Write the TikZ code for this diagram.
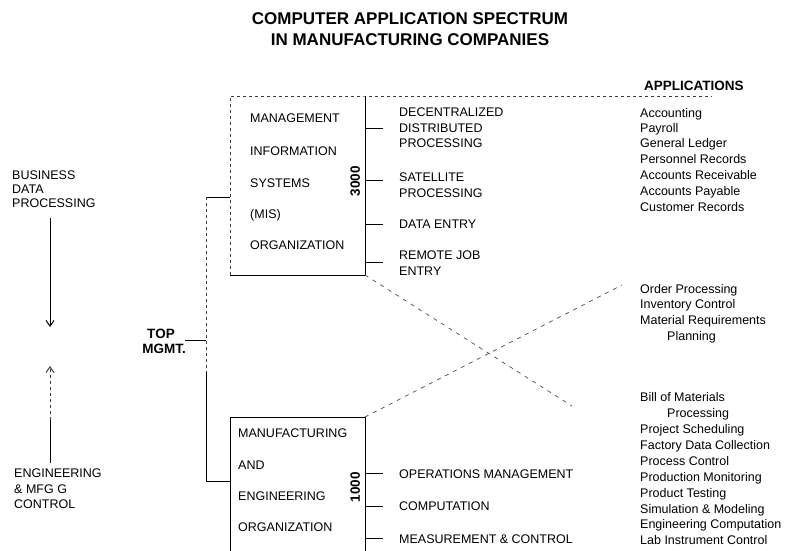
\documentclass[tikz,border=0pt]{standalone}
\usepackage{fontspec}
\setmainfont{Liberation Sans}
\usetikzlibrary{arrows.meta}
\begin{document}
\begin{tikzpicture}[x=1pt,y=-1pt,
  lbl/.style={font=\fontsize{12.5}{13}\selectfont, inner sep=0pt, anchor=west, text height=9pt, text depth=0pt},
  app/.style={font=\fontsize{12.5}{13}\selectfont, inner sep=0pt, anchor=west, text height=9pt, text depth=0pt},
  boldlbl/.style={font=\bfseries\fontsize{13.5}{14}\selectfont, inner sep=0pt, text height=9.8pt, text depth=0pt},
  titlef/.style={font=\bfseries\fontsize{17}{18}\selectfont, inner sep=0pt, text height=12.2pt, text depth=0pt},
  solidline/.style={line width=1pt, black},
  faintline/.style={line width=0.8pt, black!75, dash pattern=on 3pt off 3pt},
  crossline/.style={line width=0.7pt, black!70, dash pattern=on 4pt off 5pt},
  tick/.style={line width=1pt, black},
  barb/.style={-{Straight Barb[angle=70:7pt, line width=1pt]}}]
\useasboundingbox (0,0) rectangle (791,550);

% title
\node[titlef] (t1) at (410,18) {COMPUTER APPLICATION SPECTRUM};
\node[titlef] (t2) at (410,39) {IN MANUFACTURING COMPANIES};

% left side
\node[lbl] (bdp1) at (12,175) {BUSINESS};
\node[lbl] (bdp2) at (12,189) {DATA};
\node[lbl] (bdp3) at (12,203) {PROCESSING};
\coordinate (dnS) at (50,218);
\coordinate (dnE) at (50,327);
\draw[solidline, barb] (dnS) -- (dnE);

\node[lbl] (em1) at (14,473) {ENGINEERING};
\node[lbl] (em2) at (14,489) {\& MFG G};
\node[lbl] (em3) at (14,504) {CONTROL};
\coordinate (upS) at (50,463);
\coordinate (upM) at (50,420);
\coordinate (upE) at (50,366);
\draw[solidline] (upS) -- (upM);
\draw[faintline, barb] (upM) -- (upE);

% top management bracket
\node[boldlbl] (top) at (161,334) {TOP};
\node[boldlbl] (mgmt) at (164,349) {MGMT.};
\coordinate (brT) at (206,197);
\coordinate (brD) at (206,372);
\coordinate (brB) at (206,481);
\coordinate (brM) at (206,340);
\coordinate (tmT) at (185,340);
\coordinate (misJ) at (230,197);
\coordinate (mfgJ) at (230,481);
\draw[solidline] (misJ) -- (brT);
\draw[faintline] (brT) -- (brD);
\draw[solidline] (brD) -- (brB) -- (mfgJ);
\draw[solidline] (tmT) -- (brM);

% MIS box
\coordinate (misTL) at (230,96);
\coordinate (misTR) at (365,96);
\coordinate (misBR) at (365,275);
\coordinate (misBL) at (230,275);
\coordinate (topEnd) at (712,96);
\draw[faintline] (misBL) -- (misTL) -- (misTR) -- (topEnd);
\draw[solidline] (misTR) -- (misBR) -- (misBL);

\node[lbl] (m1) at (250,118) {MANAGEMENT};
\node[lbl] (m2) at (250,151) {INFORMATION};
\node[lbl] (m3) at (250,183) {SYSTEMS};
\node[lbl] (m4) at (250,214) {(MIS)};
\node[lbl] (m5) at (250,245) {ORGANIZATION};
\node[boldlbl, rotate=90] (n3000) at (355,181) {3000};

\foreach \yy/\nm in {128/a,180/b,224/c,262/d}{
  \coordinate (mt\nm) at (365,\yy);
  \coordinate (me\nm) at (383,\yy);
  \draw[tick] (mt\nm) -- (me\nm);
}
\node[lbl] (d1) at (399,112) {DECENTRALIZED};
\node[lbl] (d2) at (399,128) {DISTRIBUTED};
\node[lbl] (d3) at (399,143) {PROCESSING};
\node[lbl] (s1) at (399,177) {SATELLITE};
\node[lbl] (s2) at (399,193) {PROCESSING};
\node[lbl] (de) at (399,224) {DATA ENTRY};
\node[lbl] (r1) at (399,255) {REMOTE JOB};
\node[lbl] (r2) at (399,271) {ENTRY};

% Manufacturing box
\coordinate (mfgTL) at (230,417);
\coordinate (mfgTR) at (365,417);
\coordinate (mfgBR) at (365,552);
\coordinate (mfgBL) at (230,552);
\draw[solidline] (mfgBL) -- (mfgTL) -- (mfgTR) -- (mfgBR);

\node[lbl] (f1) at (238,433) {MANUFACTURING};
\node[lbl] (f2) at (238,465) {AND};
\node[lbl] (f3) at (238,496) {ENGINEERING};
\node[lbl] (f4) at (238,527) {ORGANIZATION};
\node[boldlbl, rotate=90] (n1000) at (355,487) {1000};

\foreach \yy/\nm in {473/a,506/b,538/c}{
  \coordinate (ft\nm) at (365,\yy);
  \coordinate (fe\nm) at (383,\yy);
  \draw[tick] (ft\nm) -- (fe\nm);
}
\node[lbl] (o1) at (399,474) {OPERATIONS MANAGEMENT};
\node[lbl] (o2) at (399,506) {COMPUTATION};
\node[lbl] (o3) at (399,539) {MEASUREMENT \& CONTROL};

% crossing dashed lines
\coordinate (crA) at (572,406);
\coordinate (crB) at (622,285);
\draw[crossline] (misBR) -- (crA);
\draw[crossline] (mfgTR) -- (crB);

% applications
\node[boldlbl, anchor=west] (apps) at (644,86) {APPLICATIONS};
\node[app] (a1) at (640,113) {Accounting};
\node[app] (a2) at (640,128) {Payroll};
\node[app] (a3) at (640,143) {General Ledger};
\node[app] (a4) at (640,159) {Personnel Records};
\node[app] (a5) at (640,175) {Accounts Receivable};
\node[app] (a6) at (640,191) {Accounts Payable};
\node[app] (a7) at (640,207) {Customer Records};

\node[app] (b1) at (640,289) {Order Processing};
\node[app] (b2) at (640,304) {Inventory Control};
\node[app] (b3) at (640,320) {Material Requirements};
\node[app] (b4) at (667,336) {Planning};

\node[app] (c1) at (640,397) {Bill of Materials};
\node[app] (c2) at (667,413) {Processing};
\node[app] (c3) at (640,429) {Project Scheduling};
\node[app] (c4) at (640,445) {Factory Data Collection};
\node[app] (c5) at (640,461) {Process Control};
\node[app] (c6) at (640,477) {Production Monitoring};
\node[app] (c7) at (640,493) {Product Testing};
\node[app] (c8) at (640,509) {Simulation \& Modeling};
\node[app] (c9) at (640,524) {Engineering Computation};
\node[app] (c10) at (640,540) {Lab Instrument Control};
\end{tikzpicture}
\end{document}
